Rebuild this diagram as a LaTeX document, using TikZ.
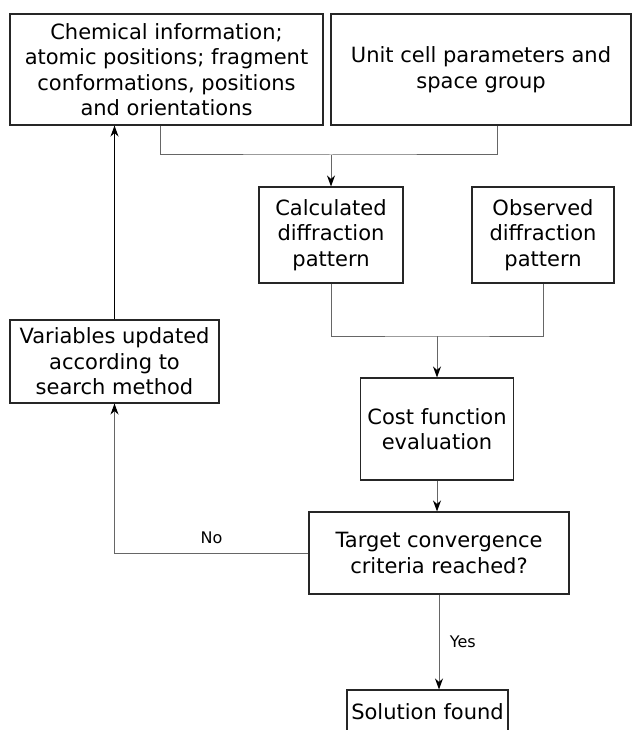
\documentclass[tikz,border=0pt]{standalone}
\usepackage{fontspec}
\setmainfont{DejaVu Sans}
\usetikzlibrary{arrows.meta, positioning, calc}

\begin{document}
\begin{tikzpicture}[
    x=1pt, y=1pt,
    box/.style={rectangle, draw=black!85, line width=1.1pt, align=center, inner sep=0pt, font=\fontsize{21}{25.5}\selectfont},
    link/.style={draw=black!60, line width=1pt},
    arr/.style={link, -{Stealth[length=11pt, width=8pt, inset=3.5pt, black]}},
    lbl/.style={font=\fontsize{16}{19}\selectfont},
]
\useasboundingbox (0,0) rectangle (632,-730);

% Inputs
\node[box, minimum width=313, minimum height=111] (chem) at (166.5,-69.5)
    {Chemical information;\\atomic positions; fragment\\conformations, positions\\and orientations};
\node[box, minimum width=300, minimum height=111] (cell) at (481,-69.5)
    {Unit cell parameters and\\space group};

% Patterns
\node[box, minimum width=144, minimum height=96] (calc) at (331,-235)
    {Calculated\\diffraction\\pattern};
\node[box, minimum width=142, minimum height=96] (obs) at (543,-235)
    {Observed\\diffraction\\pattern};

% Evaluation and test
\node[box, minimum width=153, minimum height=102] (cost) at (437,-429)
    {Cost function\\evaluation};
\node[box, minimum width=260, minimum height=82] (conv) at (439,-553)
    {Target convergence\\criteria reached?};
\node[box, minimum width=161, minimum height=44] (sol) at (427.5,-712)
    {Solution found};
\node[box, minimum width=209, minimum height=83] (upd) at (114.5,-361.5)
    {Variables updated\\according to\\search method};

% Junctions
\coordinate (j1) at (calc.north |- 0,-155);
\coordinate (j2) at (cost.north |- 0,-336);

% Connectors
\draw[link] ([xshift=-6pt]chem.south) |- (j1) -| ([xshift=16pt]cell.south);
\draw[arr] (j1) -- (calc.north);
\draw[link] (calc.south) |- (j2) -| (obs.south);
\draw[arr] (j2) -- (cost.north);
\draw[arr] (cost.south) -- (cost.south |- conv.north);
\draw[arr] (conv.south) -- node[lbl, right=7pt] {Yes} (conv.south |- sol.north);
\draw[arr] (conv.west) -| node[lbl, pos=0.25, above=5pt] {No} (upd.south);
\draw[arr, draw=black] (upd.north) -- (upd.north |- chem.south);

\end{tikzpicture}
\end{document}
